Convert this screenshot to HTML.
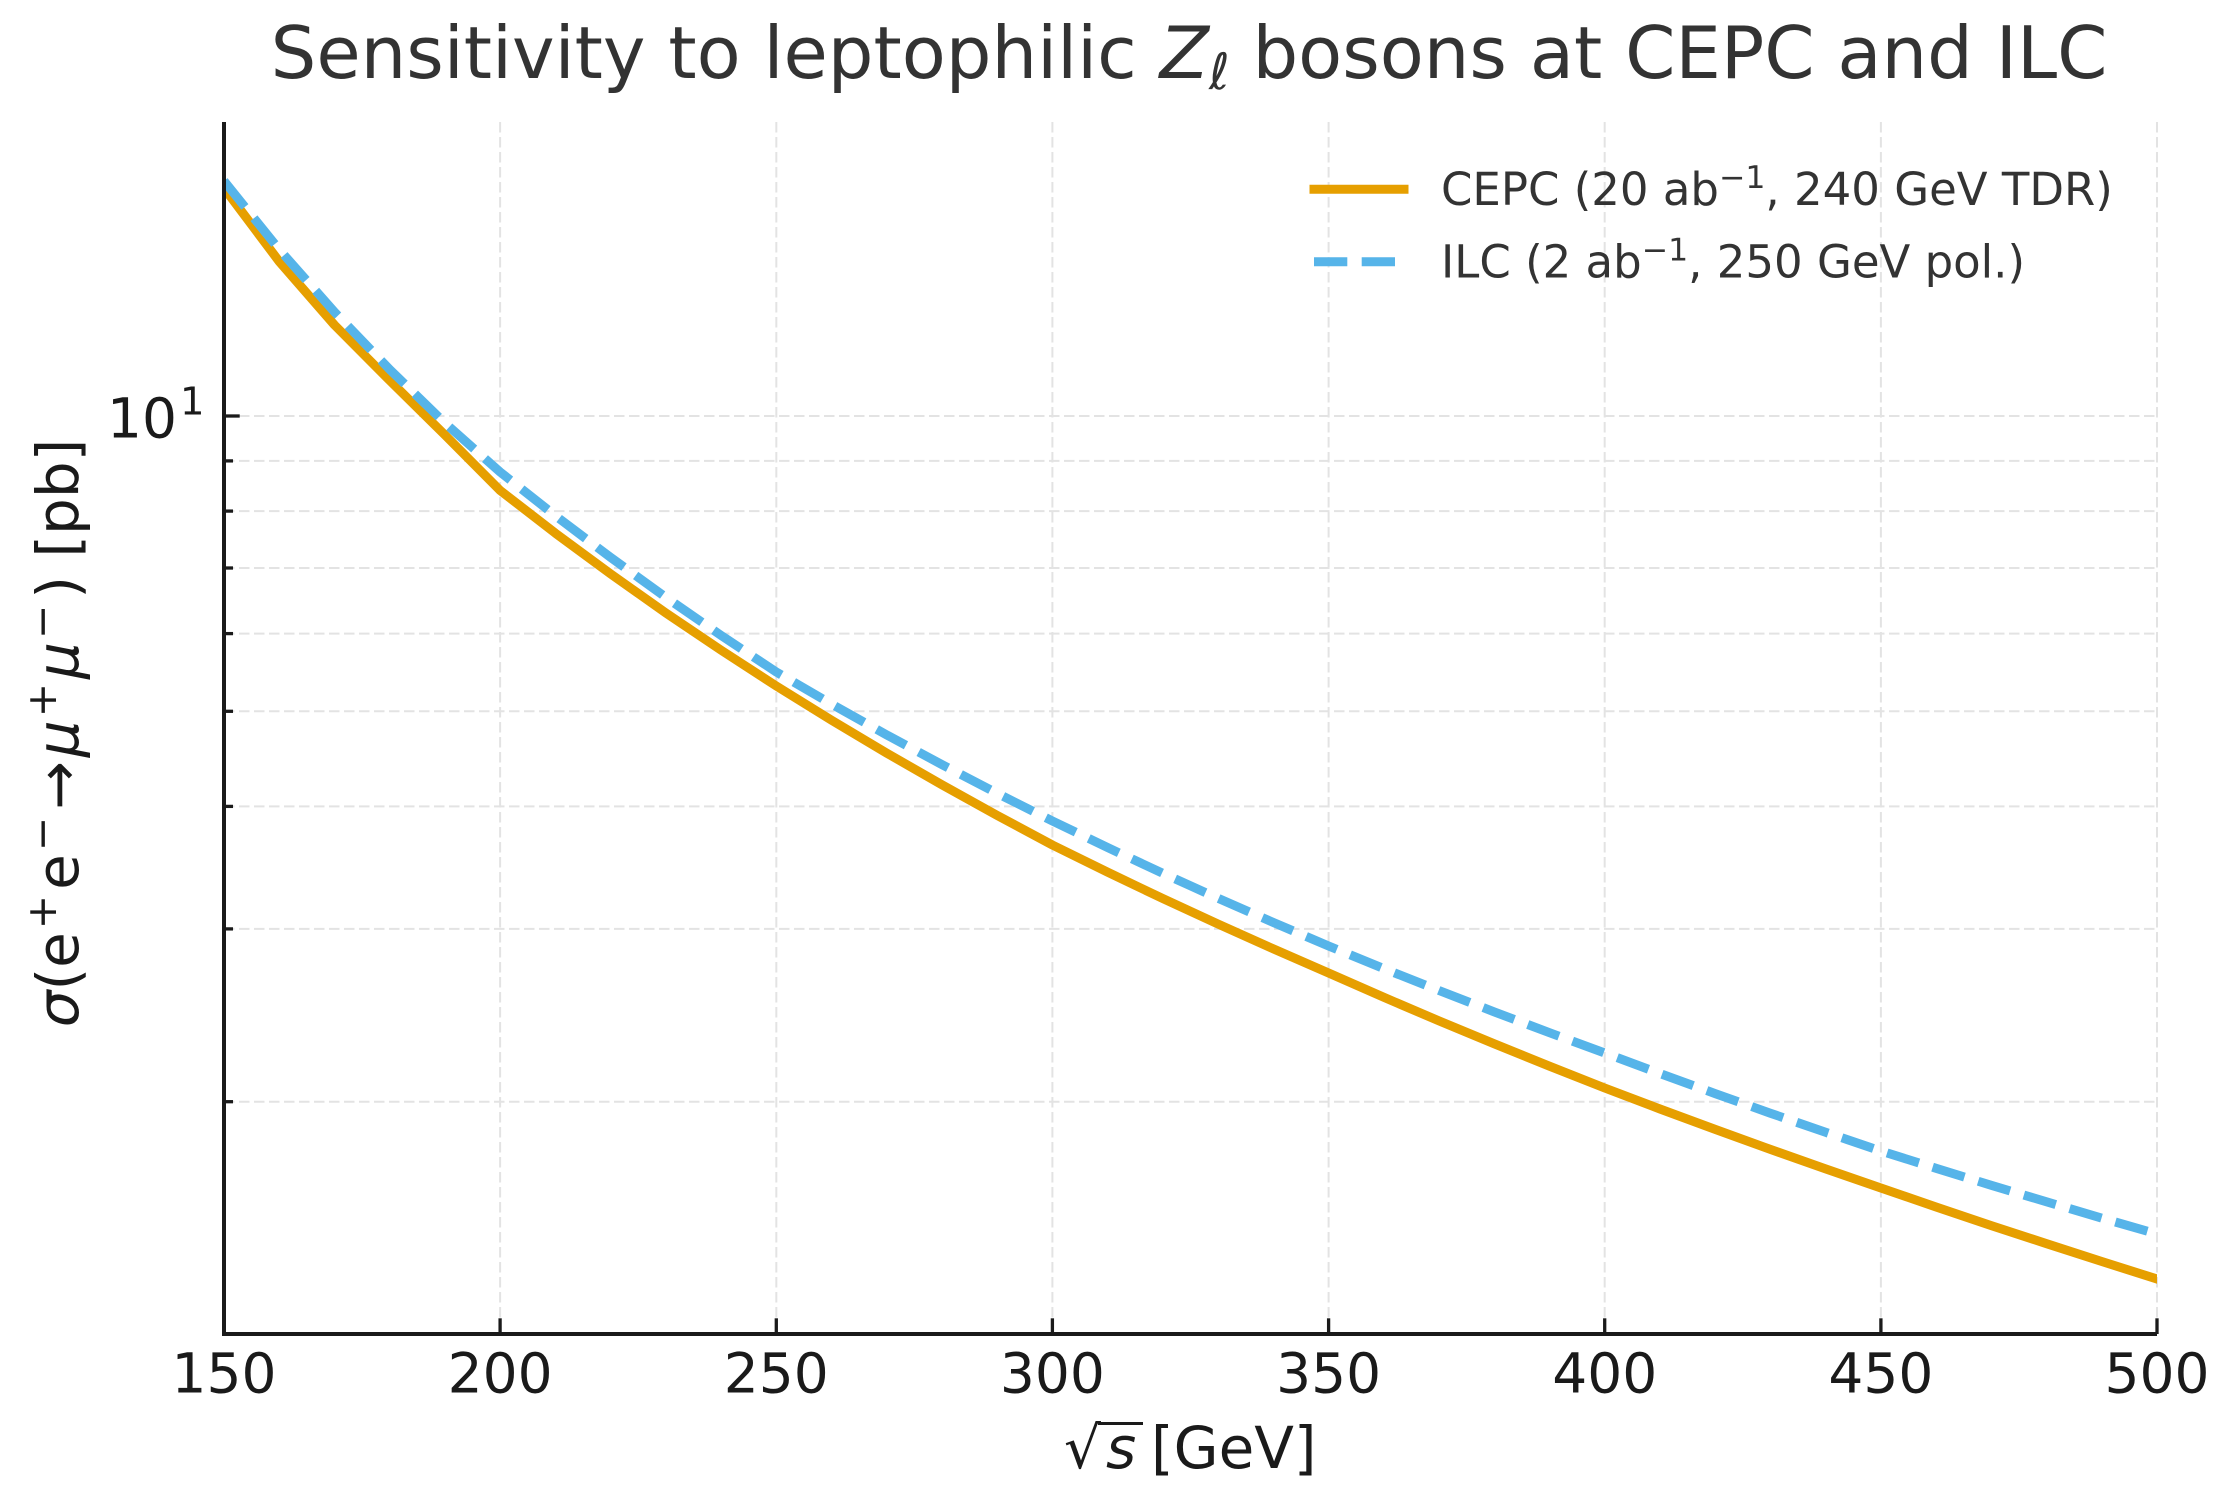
<!DOCTYPE html>
<html>
<head>
<meta charset="utf-8">
<style>
  html, body { margin: 0; padding: 0; background: #ffffff; }
  svg { display: block; }
  text { font-family: "DejaVu Sans", "Liberation Sans", sans-serif; }
</style>
</head>
<body>
<svg xmlns="http://www.w3.org/2000/svg" width="2225" height="1491" viewBox="0 0 2225 1491">
  <rect x="0" y="0" width="2225" height="1491" fill="#ffffff"/>
  <defs>
    <clipPath id="ax">
      <rect x="224" y="122" width="1933" height="1212"/>
    </clipPath>
  </defs>

  <!-- Title -->
  <text x="1189" y="78" font-size="72" fill="#333333" text-anchor="middle">Sensitivity to leptophilic <tspan font-style="italic">Z</tspan><tspan font-style="italic" font-size="50" dy="11">ℓ</tspan><tspan dy="-11"> bosons at CEPC and ILC</tspan></text>

  <!-- Grid -->
  <g stroke="#e3e3e3" stroke-width="2" stroke-dasharray="10.5 4.5" fill="none">
    <line x1="224" x2="2157" y1="1101.7" y2="1101.7"/>
    <line x1="224" x2="2157" y1="928.9" y2="928.9"/>
    <line x1="224" x2="2157" y1="806.4" y2="806.4"/>
    <line x1="224" x2="2157" y1="711.3" y2="711.3"/>
    <line x1="224" x2="2157" y1="633.6" y2="633.6"/>
    <line x1="224" x2="2157" y1="568.0" y2="568.0"/>
    <line x1="224" x2="2157" y1="511.1" y2="511.1"/>
    <line x1="224" x2="2157" y1="460.9" y2="460.9"/>
    <line x1="224" x2="2157" y1="416" y2="416"/>
    <line x1="500.1" x2="500.1" y1="122" y2="1334"/>
    <line x1="776.3" x2="776.3" y1="122" y2="1334"/>
    <line x1="1052.4" x2="1052.4" y1="122" y2="1334"/>
    <line x1="1328.6" x2="1328.6" y1="122" y2="1334"/>
    <line x1="1604.7" x2="1604.7" y1="122" y2="1334"/>
    <line x1="1880.9" x2="1880.9" y1="122" y2="1334"/>
    <line x1="2157" x2="2157" y1="122" y2="1334"/>
  </g>

  <!-- Series -->
  <g clip-path="url(#ax)" fill="none">
    <polyline stroke="#E69F00" stroke-width="9" stroke-linecap="square" stroke-linejoin="round"
      points="224,188 279.2,261.5 334.5,325 389.7,380.5 444.9,434.9 500.1,490.4 555.4,533.2 610.6,573.9 665.8,612.9 721.1,650.2 776.3,686 831.5,720.2 886.7,753.1 942.0,784.8 997.2,815.4 1052.4,845 1107.7,872.2 1162.9,898.6 1218.1,924.1 1273.4,948.9 1328.6,973 1383.8,997.3 1439.0,1020.9 1494.3,1043.8 1549.5,1066.2 1604.7,1088 1660.0,1109.0 1715.2,1129.4 1770.4,1149.4 1825.6,1168.9 1880.9,1188 1936.1,1207.0 1991.3,1225.6 2046.6,1243.7 2101.8,1261.5 2157,1279"/>
    <polyline stroke="#56B4E9" stroke-width="9" stroke-linecap="butt" stroke-linejoin="round" stroke-dasharray="33.3 14.4"
      points="224,181 279.2,249.5 334.5,312 389.7,369.5 444.9,423 500.1,472 555.4,515.7 610.6,557.4 665.8,597.3 721.1,635.4 776.3,672 831.5,704.0 886.7,734.9 942.0,764.6 997.2,793.3 1052.4,821 1107.7,847.6 1162.9,873.3 1218.1,898.3 1273.4,922.5 1328.6,946 1383.8,968.6 1439.0,990.5 1494.3,1011.9 1549.5,1032.7 1604.7,1053 1660.0,1073.5 1715.2,1093.6 1770.4,1113.2 1825.6,1132.3 1880.9,1151 1936.1,1168.3 1991.3,1185.3 2046.6,1201.8 2101.8,1218.1 2157,1234"/>
  </g>

  <!-- Spines -->
  <g stroke="#1a1a1a" stroke-width="4" fill="none">
    <line x1="224" y1="122" x2="224" y2="1336"/>
    <line x1="222" y1="1334" x2="2157" y2="1334"/>
  </g>

  <!-- Ticks -->
  <g stroke="#1a1a1a" stroke-width="3.3">
    <line x1="224" x2="224" y1="1334" y2="1318.3"/>
    <line x1="500.1" x2="500.1" y1="1334" y2="1318.3"/>
    <line x1="776.3" x2="776.3" y1="1334" y2="1318.3"/>
    <line x1="1052.4" x2="1052.4" y1="1334" y2="1318.3"/>
    <line x1="1328.6" x2="1328.6" y1="1334" y2="1318.3"/>
    <line x1="1604.7" x2="1604.7" y1="1334" y2="1318.3"/>
    <line x1="1880.9" x2="1880.9" y1="1334" y2="1318.3"/>
    <line x1="2157" x2="2157" y1="1334" y2="1318.3"/>
    <line x1="224" x2="239.7" y1="416" y2="416"/>
    <line x1="224" x2="233" y1="1101.7" y2="1101.7"/>
    <line x1="224" x2="233" y1="928.9" y2="928.9"/>
    <line x1="224" x2="233" y1="806.4" y2="806.4"/>
    <line x1="224" x2="233" y1="711.3" y2="711.3"/>
    <line x1="224" x2="233" y1="633.6" y2="633.6"/>
    <line x1="224" x2="233" y1="568.0" y2="568.0"/>
    <line x1="224" x2="233" y1="511.1" y2="511.1"/>
    <line x1="224" x2="233" y1="460.9" y2="460.9"/>
  </g>

  <!-- X tick labels -->
  <g font-size="55" fill="#1a1a1a" text-anchor="middle">
    <text x="224" y="1392.5">150</text>
    <text x="500.1" y="1392.5">200</text>
    <text x="776.3" y="1392.5">250</text>
    <text x="1052.4" y="1392.5">300</text>
    <text x="1328.6" y="1392.5">350</text>
    <text x="1604.7" y="1392.5">400</text>
    <text x="1880.9" y="1392.5">450</text>
    <text x="2157" y="1392.5">500</text>
  </g>

  <!-- Y tick label -->
  <text x="107" y="437.5" font-size="55" fill="#1a1a1a">10<tspan font-size="38.5" dy="-23" dx="3">1</tspan></text>

  <!-- X axis label -->
  <text x="1064" y="1468" font-size="58" fill="#1a1a1a">√</text>
  <text x="1106" y="1468" font-size="58" fill="#1a1a1a" font-style="italic">s</text>
  <text x="1151" y="1468" font-size="58" fill="#1a1a1a">[GeV]</text>
  <line x1="1098" y1="1423.5" x2="1143" y2="1423.5" stroke="#1a1a1a" stroke-width="3"/>

  <!-- Y axis label -->
  <text transform="translate(78,733) rotate(-90)" font-size="58" fill="#1a1a1a" text-anchor="middle"><tspan font-style="italic">σ</tspan>(e<tspan font-size="41" dy="-22" dx="3">+</tspan><tspan dy="22" dx="5">e</tspan><tspan font-size="41" dy="-22" dx="3">−</tspan><tspan dy="22" dx="7">→</tspan><tspan font-style="italic" dx="4">μ</tspan><tspan font-size="41" dy="-22" dx="3">+</tspan><tspan font-style="italic" dy="22" dx="4">μ</tspan><tspan font-size="41" dy="-22" dx="3">−</tspan><tspan dy="22" dx="6">) [pb]</tspan></text>

  <!-- Legend -->
  <line x1="1314" y1="189.3" x2="1404" y2="189.3" stroke="#E69F00" stroke-width="9" stroke-linecap="square"/>
  <line x1="1314" y1="261.7" x2="1404" y2="261.7" stroke="#56B4E9" stroke-width="9" stroke-linecap="butt" stroke-dasharray="33.3 14.4"/>
  <text x="1441" y="205" font-size="45" fill="#333333">CEPC (20 ab<tspan font-size="31.5" dy="-17">−1</tspan><tspan dy="17">, 240 GeV TDR)</tspan></text>
  <text x="1441" y="277.7" font-size="45" fill="#333333">ILC (2 ab<tspan font-size="31.5" dy="-17">−1</tspan><tspan dy="17">, 250 GeV pol.)</tspan></text>
</svg>
</body>
</html>
